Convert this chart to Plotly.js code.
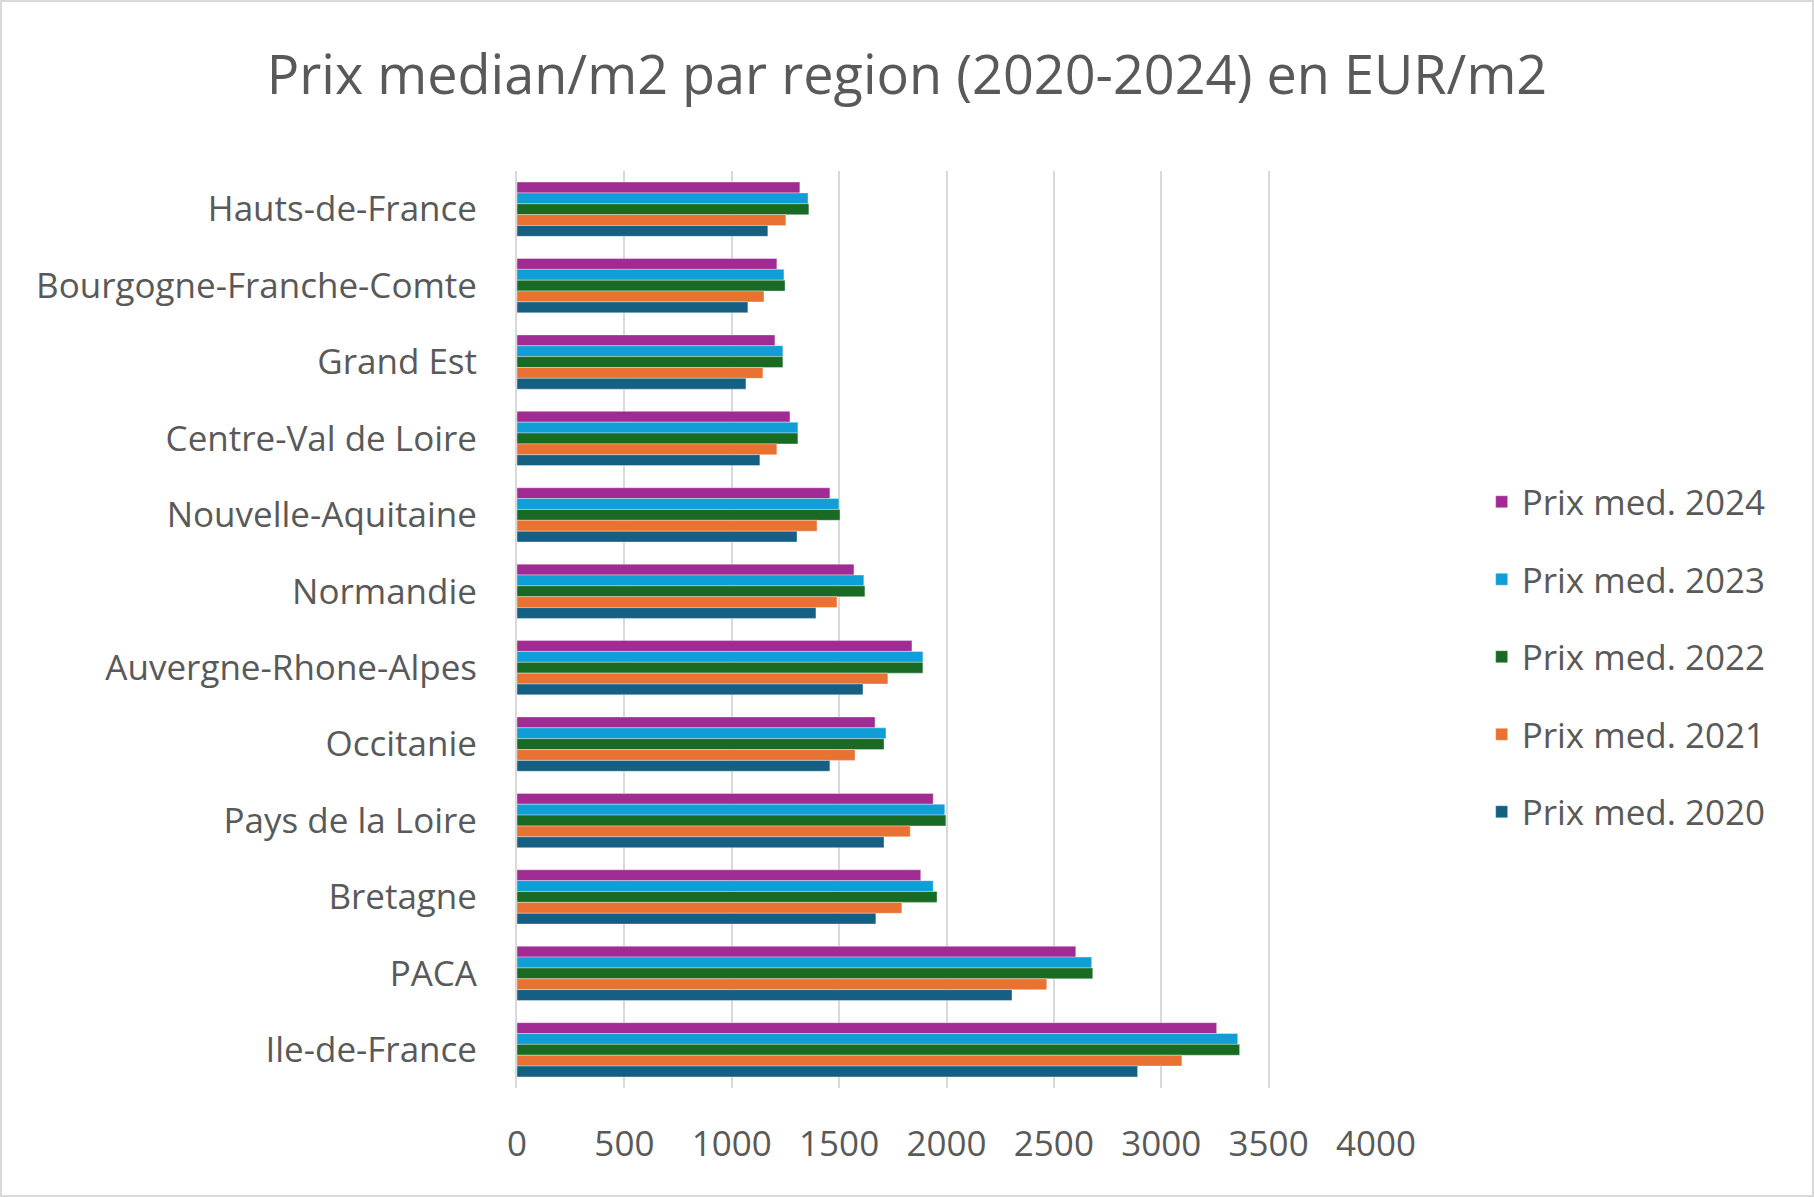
<!DOCTYPE html>
<html>
<head>
<meta charset="utf-8">
<script src="https://cdn.plot.ly/plotly-3.0.1.min.js"></script>
<style>
html,body{margin:0;padding:0;background:#fff;}
#wrap{position:relative;width:1814px;height:1197px;}
#chart{width:1814px;height:1197px;}
#frame{position:absolute;left:0;top:0;width:1814px;height:1197px;box-sizing:border-box;border:2px solid #D9D9D9;pointer-events:none;}
</style>
</head>
<body>
<div id="wrap"><div id="chart"></div><div id="frame"></div></div>
<script>
const regions = ["Hauts-de-France","Bourgogne-Franche-Comte","Grand Est","Centre-Val de Loire","Nouvelle-Aquitaine","Normandie","Auvergne-Rhone-Alpes","Occitanie","Pays de la Loire","Bretagne","PACA","Ile-de-France"];
const prix2024 = [1317,1210,1201,1271,1457,1569,1839,1667,1938,1880,2602,3258];
const prix2023 = [1355,1243,1238,1308,1499,1615,1890,1718,1992,1938,2676,3356];
const prix2022 = [1359,1248,1238,1308,1504,1620,1890,1709,1997,1956,2681,3365];
const prix2021 = [1252,1150,1145,1210,1397,1490,1727,1574,1831,1792,2467,3096];
const prix2020 = [1168,1075,1066,1131,1304,1392,1611,1457,1709,1671,2305,2890];
const seriesNames = ["Prix med. 2024","Prix med. 2023","Prix med. 2022","Prix med. 2021","Prix med. 2020"];
const xTicks = [0,500,1000,1500,2000,2500,3000,3500,4000];

const seriesValues = [prix2024,prix2023,prix2022,prix2021,prix2020];
const colors = ["#A02B93","#0F9ED5","#196B24","#E97132","#156082"];
const FONT = "Open Sans, Noto Sans, sans-serif";
const GREY = "#595959";

const traces = seriesValues.map((vals,i)=>({
  type:"bar", orientation:"h",
  name: seriesNames[i],
  y: regions, x: vals,
  legendgroup: "g"+i,
  marker:{color: colors[i], line:{color:"rgba(255,255,255,0.35)", width:1}},
  hoverinfo:"x+name"
}));

const layout = {
  width:1814, height:1197,
  paper_bgcolor:"#fff", plot_bgcolor:"#fff",
  margin:{l:517, r:438, t:171, b:109},
  barmode:"group", bargap:0.29, bargroupgap:0,
  title:{text:"Prix median/m2 par region (2020-2024) en EUR/m2", font:{family:FONT, size:54, color:GREY}, x:0.5, xanchor:"center", y:0.937, yanchor:"middle"},
  font:{family:FONT, color:GREY},
  xaxis:{range:[0,4000], tickvals:xTicks, ticktext:xTicks.map(String), showgrid:true, gridcolor:"#D9D9D9", gridwidth:2,
         zeroline:false, showline:false, ticks:"", tickfont:{family:FONT, size:35, color:GREY}, ticklabelstandoff:32, fixedrange:true},
  yaxis:{type:"category", autorange:"reversed", showgrid:false, zeroline:false, showline:true, linecolor:"#D9D9D9", linewidth:2,
         ticks:"", tickfont:{family:FONT, size:35, color:GREY}, ticklabelstandoff:31, fixedrange:true},
  legend:{x:1.123, xanchor:"left", y:0.47, yanchor:"middle", traceorder:"grouped", tracegroupgap:29,
          font:{family:FONT, size:35, color:GREY}, bgcolor:"rgba(0,0,0,0)"},
  showlegend:true
};

Plotly.newPlot("chart", traces, layout, {displayModeBar:false, staticPlot:true});
</script>
</body>
</html>
